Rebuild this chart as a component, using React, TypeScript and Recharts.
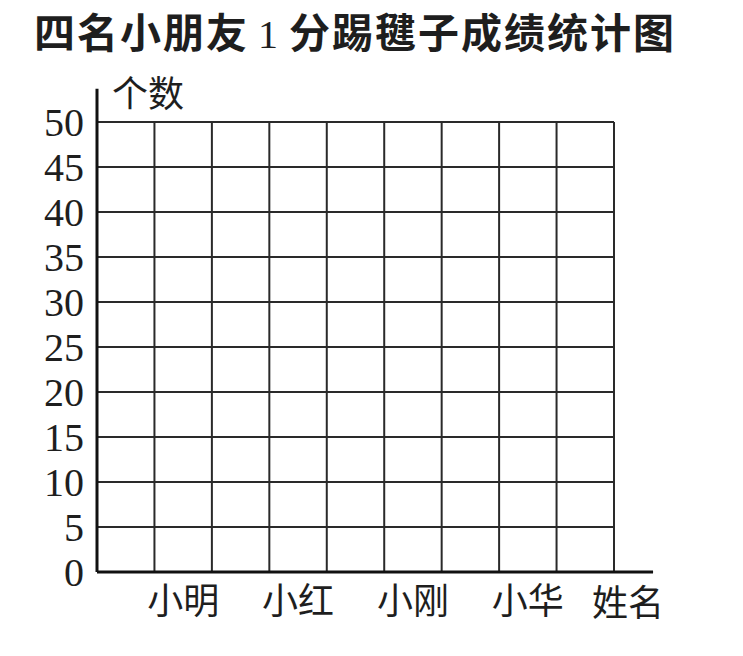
import React from 'react';
import {
  ComposedChart,
  XAxis,
  YAxis,
  CartesianGrid,
  Bar,
  ReferenceLine,
} from 'recharts';

// ---- data ----
const titleLeft = '四名小朋友';
const titleNumber = '1';
const titleRight = '分踢毽子成绩统计图';
const yAxisTitle = '个数';
const xAxisTitle = '姓名';
const names = ['小明', '小红', '小刚', '小华'];
const counts: (number | null)[] = [null, null, null, null]; // blank chart: no results filled in yet
const yTicks = [0, 5, 10, 15, 20, 25, 30, 35, 40, 45, 50];
const gridColumns = [0, 1, 2, 3, 4, 5, 6, 7, 8, 9];

// ---- layout constants ----
const X_DOMAIN: [number, number] = [0, 9];
const Y_DOMAIN: [number, number] = [0, 50];
const X_AXIS_END = 9.68;
const Y_AXIS_END = 53.7;

const xTickPositions = names.map((_, i) => 2 * i + 1.5);
const data = names.map((name, i) => ({ name, x: xTickPositions[i], count: counts[i] }));
const nameAt = (v: number) => {
  const i = xTickPositions.indexOf(v);
  return i >= 0 ? names[i] : '';
};

const CJK = '"Noto Sans CJK SC", "Noto Sans", sans-serif';
const SERIF = '"Liberation Serif", "DejaVu Serif", serif';
const INK = '#1e1e1e';
const CHART_TOP = 64;

export default function App() {
  return (
    <div style={{ position: 'absolute', left: 0, top: 0, width: 743, height: 656, background: '#fff' }}>
      <div
        style={{
          position: 'absolute',
          left: 0,
          top: 0,
          width: 710,
          textAlign: 'center',
          fontFamily: CJK,
          fontWeight: 700,
          fontSize: 41,
          letterSpacing: 2,
          lineHeight: 'normal',
          color: INK,
          whiteSpace: 'nowrap',
        }}
      >
        <span>{titleLeft}</span>
        <span style={{ fontFamily: SERIF, fontWeight: 400, fontSize: 40, margin: '0 9px' }}>{titleNumber}</span>
        <span>{titleRight}</span>
      </div>
      <div style={{ position: 'absolute', left: 0, top: CHART_TOP }}>
        <ComposedChart
          width={743}
          height={656 - CHART_TOP}
          data={data}
          margin={{ top: 122 - CHART_TOP, right: 129, bottom: 24, left: 0 }}
        >
          <CartesianGrid
            stroke="#2a2a2a"
            strokeWidth={2}
            verticalValues={gridColumns}
            horizontalValues={yTicks}
          />
          <XAxis
            type="number"
            dataKey="x"
            domain={X_DOMAIN}
            allowDataOverflow
            ticks={xTickPositions}
            tickFormatter={nameAt}
            axisLine={false}
            tickLine={false}
            tickSize={0}
            tickMargin={16}
            height={60}
            interval={0}
            tick={{ fontFamily: CJK, fontSize: 36, fill: INK }}
            label={{
              content: (props: any) => {
                const vb = props.viewBox || {};
                return (
                  <text
                    x={vb.x + vb.width - 22}
                    y={vb.y + 28}
                    dominantBaseline="central"
                    textAnchor="start"
                    fontFamily={CJK}
                    fontSize={36}
                    fill={INK}
                  >
                    {xAxisTitle}
                  </text>
                );
              },
            }}
          />
          <YAxis
            type="number"
            domain={Y_DOMAIN}
            allowDataOverflow
            ticks={yTicks}
            interval={0}
            width={97}
            axisLine={false}
            tickLine={false}
            tickSize={0}
            tickMargin={13}
            tick={{ fontFamily: SERIF, fontSize: 40, fill: INK }}
            label={{
              content: (props: any) => {
                const vb = props.viewBox || {};
                return (
                  <text
                    x={vb.x + vb.width + 15}
                    y={vb.y - 31}
                    dominantBaseline="central"
                    textAnchor="start"
                    fontFamily={CJK}
                    fontSize={36}
                    fill={INK}
                  >
                    {yAxisTitle}
                  </text>
                );
              },
            }}
          />
          <Bar dataKey="count" barSize={40} fill="#888" isAnimationActive={false} />
          <ReferenceLine
            segment={[{ x: 0, y: 0 }, { x: X_AXIS_END, y: 0 }]}
            ifOverflow="visible"
            stroke="#111"
            strokeWidth={3}
          />
          <ReferenceLine
            segment={[{ x: 0, y: 0 }, { x: 0, y: Y_AXIS_END }]}
            ifOverflow="visible"
            stroke="#111"
            strokeWidth={3}
          />
        </ComposedChart>
      </div>
    </div>
  );
}
